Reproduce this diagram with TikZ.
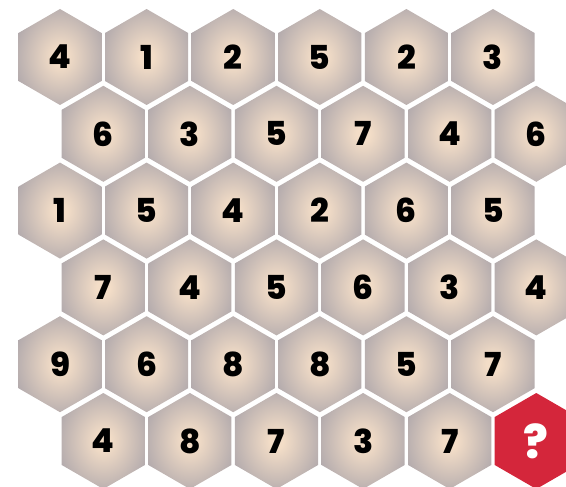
\documentclass[tikz,border=0pt]{standalone}
\usepackage{fontspec}
\newfontfamily\hexfont{Poppins}[BoldFont={Poppins ExtraBold}]
\usetikzlibrary{shapes.geometric}
\definecolor{hexcore}{HTML}{F3DDC7}
\definecolor{hexedge}{HTML}{9E9AA4}
\definecolor{hexred}{HTML}{D4263B}
\pgfdeclareradialshading{hexglow}{\pgfpointorigin}{color(0bp)=(hexcore); color(4bp)=(hexcore); color(36bp)=(hexedge); color(50bp)=(hexedge)}
\tikzset{
  hexbase/.style={regular polygon, regular polygon sides=6, shape border rotate=30,
    minimum size=96pt, inner sep=0pt, outer sep=0pt,
    font=\hexfont\bfseries\fontsize{33}{33}\selectfont},
  hexcell/.style={hexbase, shading=hexglow, text=black},
  hexodd/.style={hexbase, fill=hexred, text=white,
    font=\hexfont\bfseries\fontsize{46}{46}\selectfont}
}

\begin{document}
\begin{tikzpicture}[x=1pt, y=-1pt]
  \useasboundingbox (0,0) rectangle (566,487);

  % grid of numbered cells, odd rows shifted right
  \foreach \row/\vals in {0/{4,1,2,5,2,3}, 1/{6,3,5,7,4,6}, 2/{1,5,4,2,6,5},
                          3/{7,4,5,6,3,4}, 4/{9,6,8,8,5,7}, 5/{4,8,7,3,7}}{
    \foreach \v [count=\col from 0] in \vals {
      \pgfmathsetmacro\cx{60 + 86.6*\col + 43.3*mod(\row,2)}
      \pgfmathsetmacro\cy{57 + 76.8*\row}
      \node[hexcell] (h\row\col) at (\cx,\cy) {\v};
    }
  }

  % the missing cell
  \node[hexodd] (h55) at (536.3,441) {?};
\end{tikzpicture}
\end{document}
